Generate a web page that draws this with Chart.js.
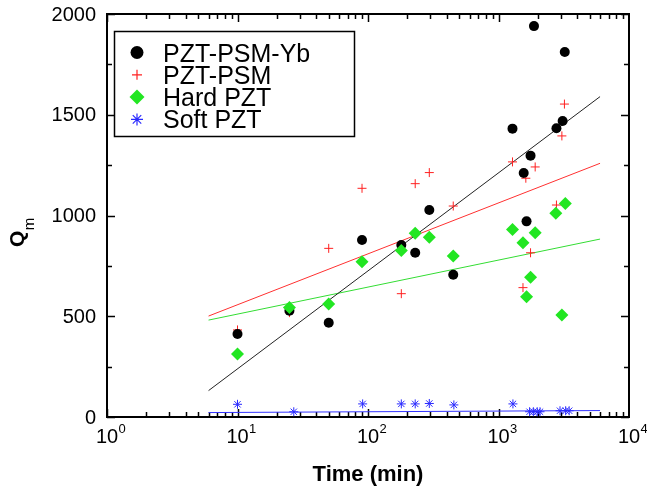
<!DOCTYPE html>
<html lang="en">
<head>
<meta charset="UTF-8">
<title>Qm vs time</title>
<script src="https://cdn.jsdelivr.net/npm/chart.js"></script>
<style>
  body { margin: 0; background: #fff; }
  #chart { display: block; }
</style>
</head>
<body>
<canvas id="chart" width="647" height="487"></canvas>
<script>
// values (time in min, Qm)
const seriesNames = ['PZT-PSM-Yb', 'PZT-PSM', 'Hard PZT', 'Soft PZT'];

const ybTime = [10, 25, 50, 90, 180, 230, 295, 450, 1280, 1560, 1640, 1760, 1870, 2780, 3100, 3220];
const ybQm   = [412, 527, 468, 878, 854, 815, 1027, 706, 1431, 1211, 971, 1297, 1940, 1433, 1469, 1811];

const psmTime = [10, 25, 50, 90, 180, 230, 295, 450, 1280, 1540, 1620, 1760, 1910, 2780, 3060, 3200];
const psmQm   = [432, 518, 837, 1135, 612, 1158, 1213, 1047, 1266, 642, 1185, 815, 1241, 1052, 1395, 1553];

const hardTime = [10, 25, 50, 90, 180, 230, 295, 450, 1280, 1540, 1640, 1760, 1910, 2750, 3060, 3250];
const hardQm   = [313, 543, 561, 771, 826, 912, 892, 799, 931, 865, 597, 693, 915, 1011, 506, 1060];

const softTime = [10, 27, 91, 180, 230, 295, 455, 1290, 1730, 1850, 1980, 2080, 2960, 3270, 3480];
const softQm   = [63, 26, 65, 65, 65, 67, 60, 65, 26, 26, 26, 26, 31, 31, 31];

// fitted lines, end points
const fitTime = [6, 6000];
const fitYb   = [131, 1590];
const fitPsm  = [501, 1259];
const fitHard = [481, 883];
const fitSoft = [22, 32];

const xTickExps = [0, 1, 2, 3, 4];
const yTicks = [0, 500, 1000, 1500, 2000];

function pts(xs, ys) {
    return xs.map((x, i) => ({ x: x, y: ys[i] }));
}

const colors = {
    yb: '#000000',
    psm: '#ff2020',
    hard: '#22e622',
    soft: '#2a2aff'
};

const legendMarks = [
    { pointStyle: 'circle', radius: 6.5, fill: colors.yb, stroke: colors.yb, bw: 0 },
    { pointStyle: 'cross', radius: 5, fill: colors.psm, stroke: colors.psm, bw: 1.2 },
    { pointStyle: 'rectRot', radius: 7.5, fill: colors.hard, stroke: colors.hard, bw: 0 },
    { pointStyle: 'star', radius: 6, fill: colors.soft, stroke: colors.soft, bw: 1.2 }
];

const FONT = '"Liberation Sans", Arial, Helvetica, sans-serif';

const axesPlugin = {
    id: 'axesPlugin',
    beforeDatasetsDraw(chart) {
        const ctx = chart.ctx;
        const a = chart.chartArea;
        const xs = chart.scales.x, ys = chart.scales.y;
        ctx.save();
        ctx.strokeStyle = '#000';
        ctx.lineWidth = 1.5;
        // inward ticks, bottom and top
        for (let e = 0; e < 4; e++) {
            for (let m = 1; m <= 9; m++) {
                const v = m * Math.pow(10, e);
                const px = Math.round(xs.getPixelForValue(v)) + 0.5;
                const len = m === 1 ? 8 : 5;
                ctx.beginPath();
                ctx.moveTo(px, a.bottom); ctx.lineTo(px, a.bottom - len);
                ctx.moveTo(px, a.top); ctx.lineTo(px, a.top + len);
                ctx.stroke();
            }
        }
        // left and right
        for (let v = 0; v <= 2000; v += 250) {
            const py = Math.round(ys.getPixelForValue(v)) + 0.5;
            const len = v % 500 === 0 ? 8 : 5;
            ctx.beginPath();
            ctx.moveTo(a.left, py); ctx.lineTo(a.left + len, py);
            ctx.moveTo(a.right, py); ctx.lineTo(a.right - len, py);
            ctx.stroke();
        }
        ctx.lineWidth = 2;
        ctx.strokeRect(a.left, a.top, a.right - a.left, a.bottom - a.top);
        ctx.restore();
    },
    afterDraw(chart) {
        const ctx = chart.ctx;
        const a = chart.chartArea;
        const xs = chart.scales.x, ys = chart.scales.y;
        ctx.save();
        ctx.fillStyle = '#000';

        // y tick labels
        ctx.font = '20px ' + FONT;
        ctx.textAlign = 'right';
        ctx.textBaseline = 'middle';
        yTicks.forEach(v => {
            ctx.fillText(String(v), a.left - 11, ys.getPixelForValue(v) + 1);
        });

        // x tick labels 10^n
        ctx.textAlign = 'left';
        ctx.textBaseline = 'alphabetic';
        xTickExps.forEach(e => {
            const px = xs.getPixelForValue(Math.pow(10, e));
            ctx.font = '20px ' + FONT;
            const w = ctx.measureText('10').width;
            ctx.fillText('10', px - w / 2, 443);
            ctx.font = '13px ' + FONT;
            ctx.fillText(String(e), px + w / 2 + 0.5, 433);
        });

        // x title
        ctx.font = 'bold 22px ' + FONT;
        ctx.textAlign = 'center';
        ctx.fillText('Time (min)', (a.left + a.right) / 2, 481);

        // y title Q_m
        ctx.save();
        ctx.translate(18, 247);
        ctx.rotate(-Math.PI / 2);
        ctx.textAlign = 'left';
        ctx.textBaseline = 'middle';
        ctx.font = 'bold 21px ' + FONT;
        const wq = ctx.measureText('Q').width;
        ctx.fillText('Q', 0, 0);
        ctx.font = '15px ' + FONT;
        ctx.fillText('m', wq + 0.5, 12);
        ctx.restore();

        // legend box
        ctx.lineWidth = 1.5;
        ctx.strokeStyle = '#000';
        ctx.strokeRect(114.5, 31.5, 240, 105);
        ctx.font = '25px ' + FONT;
        ctx.textAlign = 'left';
        ctx.textBaseline = 'alphabetic';
        seriesNames.forEach((name, i) => {
            const cy = 52.5 + i * 22.3;
            const mk = legendMarks[i];
            ctx.fillStyle = mk.fill;
            ctx.strokeStyle = mk.stroke;
            ctx.lineWidth = mk.bw || 1;
            if (Chart.helpers && Chart.helpers.drawPoint) {
                Chart.helpers.drawPoint(ctx, {
                    pointStyle: mk.pointStyle, radius: mk.radius, rotation: 0, borderWidth: mk.bw
                }, 137, cy);
            } else {
                ctx.beginPath();
                ctx.arc(137, cy, mk.radius, 0, Math.PI * 2);
                ctx.fill();
            }
            ctx.fillStyle = '#000';
            ctx.fillText(name, 163, cy + 9);
        });
        ctx.restore();
    }
};

new Chart(document.getElementById('chart'), {
    type: 'scatter',
    data: {
        datasets: [
            {
                label: seriesNames[0],
                data: pts(ybTime, ybQm),
                pointStyle: 'circle',
                pointRadius: 5,
                backgroundColor: colors.yb,
                borderColor: colors.yb,
                borderWidth: 0,
                order: 2
            },
            {
                label: seriesNames[1],
                data: pts(psmTime, psmQm),
                pointStyle: 'cross',
                pointRadius: 4.5,
                backgroundColor: colors.psm,
                borderColor: colors.psm,
                borderWidth: 1,
                order: 3
            },
            {
                label: seriesNames[2],
                data: pts(hardTime, hardQm),
                pointStyle: 'rectRot',
                pointRadius: 6.5,
                backgroundColor: colors.hard,
                borderColor: colors.hard,
                borderWidth: 0,
                order: 1
            },
            {
                label: seriesNames[3],
                data: pts(softTime, softQm),
                pointStyle: 'star',
                pointRadius: 4.5,
                backgroundColor: colors.soft,
                borderColor: colors.soft,
                borderWidth: 1,
                order: 0
            },
            {
                label: 'fit ' + seriesNames[0],
                data: pts(fitTime, fitYb),
                showLine: true, pointRadius: 0,
                borderColor: '#222', borderWidth: 1, order: 10
            },
            {
                label: 'fit ' + seriesNames[1],
                data: pts(fitTime, fitPsm),
                showLine: true, pointRadius: 0,
                borderColor: '#ff3030', borderWidth: 1, order: 10
            },
            {
                label: 'fit ' + seriesNames[2],
                data: pts(fitTime, fitHard),
                showLine: true, pointRadius: 0,
                borderColor: '#33dd33', borderWidth: 1, order: 10
            },
            {
                label: 'fit ' + seriesNames[3],
                data: pts(fitTime, fitSoft),
                showLine: true, pointRadius: 0,
                borderColor: '#3333ff', borderWidth: 1, order: 10
            }
        ]
    },
    options: {
        responsive: false,
        animation: false,
        layout: { padding: { left: 107, right: 18, top: 14, bottom: 70 } },
        scales: {
            x: { type: 'logarithmic', min: 1, max: 10000, display: false },
            y: { type: 'linear', min: 0, max: 2000, display: false }
        },
        plugins: {
            legend: { display: false },
            tooltip: { enabled: false }
        }
    },
    plugins: [axesPlugin]
});
</script>
</body>
</html>
